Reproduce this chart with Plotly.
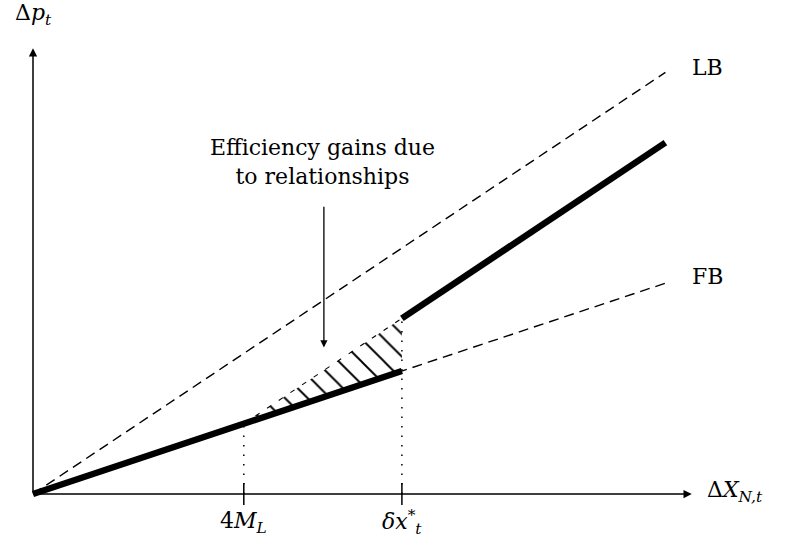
import plotly.graph_objects as go

# ---- data (model units) ----
tick_x = [2.0, 3.5]
tick_labels = ["4<i>M</i><sub><i>L</i></sub>", "<i>δx</i><sup>*</sup><sub><i>t</i></sub>"]
fb_x = [0.0, 6.0]
fb_y = [0.0, 2.0]
lb_x = [0.0, 6.0]
lb_y = [0.0, 4.0]
low_x = [0.0, 3.5]
low_y = [0.0, 7.0 / 6.0]
up_x = [3.5, 6.0]
up_y = [5.0 / 3.0, 10.0 / 3.0]
hatch_x = [2.0, 3.5, 3.5, 2.0]
hatch_y = [2.0 / 3.0, 7.0 / 6.0, 5.0 / 3.0, 2.0 / 3.0]
dot_x = [2.0, 3.5]
dot_top = [2.0 / 3.0, 5.0 / 3.0]
x_axis_end = 6.25
y_axis_end = 4.23

U = 105.4
W, H = 789, 555
ox, oy = 33, 494
xr = [-ox / U, (W - ox) / U]
yr = [-(H - oy) / U, oy / U]

FONT = "DejaVu Serif"
FS = 22
fig = go.Figure()

# hatched region
fig.add_trace(go.Scatter(x=hatch_x, y=hatch_y, mode="lines", fill="toself",
                         line=dict(width=0, color="rgba(0,0,0,0)"),
                         fillcolor="white",
                         fillpattern=dict(shape="\\", size=16, solidity=0.12,
                                          fgcolor="black", bgcolor="white", fgopacity=1),
                         hoverinfo="skip", showlegend=False))
# top edge of hatched region (dashed)
fig.add_trace(go.Scatter(x=[hatch_x[0], hatch_x[2]], y=[hatch_y[0], hatch_y[2]], mode="lines",
                         line=dict(color="black", width=1.1, dash="5px,9px"),
                         hoverinfo="skip", showlegend=False))

# dashed LB and FB
for xs, ys in [(lb_x, lb_y), (fb_x, fb_y)]:
    fig.add_trace(go.Scatter(x=xs, y=ys, mode="lines",
                             line=dict(color="black", width=1.4, dash="10px,6px"),
                             hoverinfo="skip", showlegend=False))

# dotted verticals
for xv, yt in zip(dot_x, dot_top):
    fig.add_trace(go.Scatter(x=[xv, xv], y=[0, yt], mode="lines",
                             line=dict(color="black", width=1.5, dash="1.5px,8px"),
                             hoverinfo="skip", showlegend=False))

# thick segments
for xs, ys in [(low_x, low_y), (up_x, up_y)]:
    fig.add_trace(go.Scatter(x=xs, y=ys, mode="lines",
                             line=dict(color="black", width=6.5),
                             hoverinfo="skip", showlegend=False))

shapes = []
for xv in tick_x:
    shapes.append(dict(type="line", x0=xv, x1=xv, y0=-0.105, y1=0.105,
                       xref="x", yref="y", line=dict(color="black", width=1.5)))

annotations = []
# axes with arrows
annotations.append(dict(x=x_axis_end, y=0, ax=0, ay=0, xref="x", yref="y", axref="x", ayref="y",
                        showarrow=True, arrowhead=2, arrowsize=1.1, arrowwidth=1.5,
                        arrowcolor="black", text=""))
annotations.append(dict(x=0, y=y_axis_end, ax=0, ay=0, xref="x", yref="y", axref="x", ayref="y",
                        showarrow=True, arrowhead=2, arrowsize=1.1, arrowwidth=1.5,
                        arrowcolor="black", text=""))
# efficiency arrow
annotations.append(dict(x=2.76, y=1.39, ax=2.76, ay=2.74, xref="x", yref="y", axref="x", ayref="y",
                        showarrow=True, arrowhead=2, arrowsize=1.1, arrowwidth=1.3,
                        arrowcolor="black", text=""))
annotations.append(dict(x=2.75, y=3.15, xref="x", yref="y", showarrow=False,
                        text="Efficiency gains due<br>to relationships",
                        font=dict(family=FONT, size=FS, color="black"), align="center"))
# tick labels
for xv, lab in zip(tick_x, tick_labels):
    annotations.append(dict(x=xv, y=-0.27, xref="x", yref="y", showarrow=False, text=lab,
                            font=dict(family=FONT, size=FS, color="black")))
# axis labels
annotations.append(dict(x=0, y=4.55, xref="x", yref="y", showarrow=False,
                        text="Δ<i>p</i><sub><i>t</i></sub>",
                        font=dict(family=FONT, size=FS, color="black")))
annotations.append(dict(x=6.38, y=0.02, xref="x", yref="y", showarrow=False, xanchor="left",
                        text="Δ<i>X</i><sub><i>N,t</i></sub>",
                        font=dict(family=FONT, size=FS, color="black")))
annotations.append(dict(x=6.23, y=4.05, xref="x", yref="y", showarrow=False, xanchor="left",
                        text="LB", font=dict(family=FONT, size=FS, color="black")))
annotations.append(dict(x=6.23, y=2.06, xref="x", yref="y", showarrow=False, xanchor="left",
                        text="FB", font=dict(family=FONT, size=FS, color="black")))

fig.update_layout(width=W, height=H, margin=dict(l=0, r=0, t=0, b=0),
                  paper_bgcolor="white", plot_bgcolor="white",
                  xaxis=dict(range=xr, visible=False, fixedrange=True),
                  yaxis=dict(range=yr, visible=False, fixedrange=True),
                  shapes=shapes, annotations=annotations, showlegend=False)

fig.write_html("out.html", config={"displayModeBar": False, "staticPlot": True},
               post_script="document.body.style.margin='0px';")
